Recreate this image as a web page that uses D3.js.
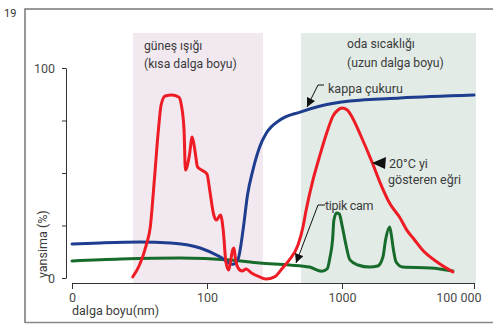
<!DOCTYPE html>
<html><head><meta charset="utf-8">
<script src="https://cdnjs.cloudflare.com/ajax/libs/d3/7.8.5/d3.min.js"></script>
<style>
html,body{margin:0;padding:0;background:#fff;}
svg{display:block;font-family:Roboto,"Open Sans",sans-serif;}
</style></head>
<body><svg id="c" width="493" height="324"></svg>
<script>
// x positions are expressed in tick-index units (0 = "0", 1 = "100", 2 = "1000", 3 = "100 000")
const xTickValues = [0, 1, 2, 3];
const xTickLabels = ["0", "100", "1000", "100 000"];
const yTickValues = [0, 25, 50, 75, 100];
const yTickLabels = {0: "0", 100: "100"};

const regions = [
  {name: "sun", x0: 0.452, x1: 1.415, label1: "güneş ışığı", label2: "(kısa dalga boyu)"},
  {name: "room", x0: 1.696, x1: 3.015, label1: "oda sıcaklığı", label2: "(uzun dalga boyu)"}
];

const blueX = [0,0.21,0.50,0.73,0.95,1.10,1.19,1.23,1.27,1.30,1.34,1.39,1.44,1.54,1.69,1.84,2.06,2.44,3.0];
const blueY = [16.2,16.7,17.1,16.7,14.3,10.0,6.5,9.0,24.3,39.5,51.4,62.4,69.0,75.2,79.0,81.9,84.3,85.7,87.1];

const redX = [0.45,0.50,0.55,0.58,0.61,0.64,0.66,0.69,0.74,0.79,0.81,0.83,0.84,0.87,0.89,0.91,0.93,0.96,1.0,1.02,1.05,1.07,1.10,1.12,1.14,1.16,1.17,1.19,1.20,1.21,1.23,1.26,1.29,1.33,1.39,1.44,1.50,1.56,1.61,1.674,1.711,1.733,1.785,1.837,1.889,1.933,1.970,2.0,2.04,2.08,2.14,2.23,2.29,2.36,2.44,2.49,2.55,2.61,2.72,2.84];
const redY = [0.5,6.2,15.7,24.3,46.7,70.5,82.4,86.7,87.1,86.2,82.4,70.5,51.4,58.6,67.1,61.0,52.9,51.4,49.5,41.9,30.0,27.6,30.0,22.9,7.6,3.8,6.2,13.3,14.3,9.5,4.8,3.3,4.3,2.4,0.5,-0.5,0.5,4.8,8.6,15.7,24.3,31.9,46.7,58.6,69.5,77.1,80.0,81.0,80.0,76.2,68.1,54.8,45.2,35.7,28.6,22.9,18.1,13.3,7.6,2.9];

const greenX = [0,0.36,0.8,1.17,1.39,1.61,1.76,1.85,1.89,1.91,1.93,1.94,1.96,1.98,2.0,2.03,2.06,2.12,2.21,2.27,2.31,2.33,2.36,2.37,2.39,2.41,2.46,2.67,2.84];
const greenY = [8.1,9.0,9.5,8.6,7.1,6.2,5.2,3.2,4.3,9.5,18.1,27.6,31.0,30.5,25.2,15.7,8.6,6.2,5.2,5.7,10.0,18.1,24.3,21.9,13.3,7.6,5.2,4.8,3.3];

const svg = d3.select("#c");
const x = d3.scaleLinear().domain([0,1,2,3]).range([72,207,342,474]);
const y = d3.scaleLinear().domain([0,100]).range([278,68]);
const axisY = 283;
const TXT = "#3b3b3b";

// frame
svg.append("path").attr("d","M25,323 V9 H493").attr("fill","none").attr("stroke","#777").attr("stroke-width",1.5);
svg.append("line").attr("x1",25).attr("x2",493).attr("y1",322.5).attr("y2",322.5).attr("stroke","#888").attr("stroke-width",1.5);
svg.append("text").attr("x",4).attr("y",17).attr("font-size",11).attr("fill","#333").text("19");

// shaded regions
const regColors = {sun:"#f2e9f0", room:"#e2ebe6"};
regions.forEach(r=>{
  svg.append("rect").attr("x",x(r.x0)).attr("y",33).attr("width",x(r.x1)-x(r.x0)).attr("height",axisY-33)
    .attr("fill",regColors[r.name]);
});
svg.append("text").attr("x",144).attr("y",50).attr("font-size",12.2).attr("fill",TXT).text(regions[0].label1);
svg.append("text").attr("x",144).attr("y",68).attr("font-size",12.2).attr("fill",TXT).text(regions[0].label2);
svg.append("text").attr("x",347).attr("y",48).attr("font-size",12.2).attr("fill",TXT).text(regions[1].label1);
svg.append("text").attr("x",347).attr("y",67).attr("font-size",12.2).attr("fill",TXT).text(regions[1].label2);

// y axis
const gy = svg.append("g").attr("transform","translate(66,0)")
  .call(d3.axisLeft(y).tickValues(yTickValues).tickSize(4).tickSizeOuter(0).tickPadding(7)
    .tickFormat(d=>yTickLabels[d]||""));
gy.select(".domain").attr("stroke","#333");
gy.selectAll(".tick line").attr("stroke","#333");
gy.selectAll("text").attr("font-size",12.5).attr("fill","#4a4a4a").attr("font-family","Roboto,sans-serif");
svg.append("text").attr("transform","translate(47,278) rotate(-90)").attr("font-size",12.5).attr("fill",TXT).text("yansima (%)");

// x axis
const gx = svg.append("g").attr("transform",`translate(0,${axisY})`)
  .call(d3.axisBottom(x).tickValues(xTickValues).tickSize(6).tickSizeOuter(0).tickPadding(4)
    .tickFormat((d,i)=>xTickLabels[i]));
gx.select(".domain").attr("stroke","#333");
gx.selectAll(".tick line").attr("stroke","#333");
gx.selectAll("text").attr("font-size",12.5).attr("fill","#4a4a4a").attr("font-family","Roboto,sans-serif");
gx.selectAll(".tick text").filter((d,i)=>i===3).attr("text-anchor","end").attr("x",7);
svg.append("text").attr("x",72).attr("y",315).attr("font-size",12.5).attr("fill",TXT).text("dalga boyu(nm)");

// curves
const line = d3.line().x(d=>x(d[0])).y(d=>y(d[1])).curve(d3.curveMonotoneX);
function draw(xs, ys, color){
  svg.append("path").datum(xs.map((v,i)=>[v,ys[i]])).attr("d",line)
    .attr("fill","none").attr("stroke",color).attr("stroke-width",3)
    .attr("stroke-linejoin","round").attr("stroke-linecap","round");
}
draw(greenX, greenY, "#176b2b");
draw(blueX, blueY, "#1f3d8e");
draw(redX, redY, "#ee1c25");

// annotations
const defs = svg.append("defs");
defs.append("marker").attr("id","ah").attr("viewBox","0 0 10 10").attr("refX",10).attr("refY",5)
  .attr("markerWidth",10).attr("markerHeight",9).attr("markerUnits","userSpaceOnUse").attr("orient","auto")
  .append("path").attr("d","M0,0 L10,5 L0,10 Z").attr("fill","#111");

svg.append("path").attr("d","M324,85 H318 L307,107").attr("fill","none").attr("stroke","#111").attr("stroke-width",1)
  .attr("marker-end","url(#ah)");
svg.append("text").attr("x",328).attr("y",93).attr("font-size",12.5).attr("fill",TXT).text("kappa çukuru");

svg.append("path").attr("d","M372,163 L386,157 L385,169 Z").attr("fill","#111");
svg.append("text").attr("x",389).attr("y",168).attr("font-size",12.5).attr("fill",TXT).text("20°C yi");
svg.append("text").attr("x",388).attr("y",184).attr("font-size",12.5).attr("fill",TXT).text("gösteren eğri");

svg.append("path").attr("d","M325,205 H318 L296,263").attr("fill","none").attr("stroke","#111").attr("stroke-width",1)
  .attr("marker-end","url(#ah)");
svg.append("text").attr("x",325).attr("y",210).attr("font-size",12.5).attr("fill",TXT).attr("letter-spacing",-0.3).text("tipik cam");
</script></body></html>
